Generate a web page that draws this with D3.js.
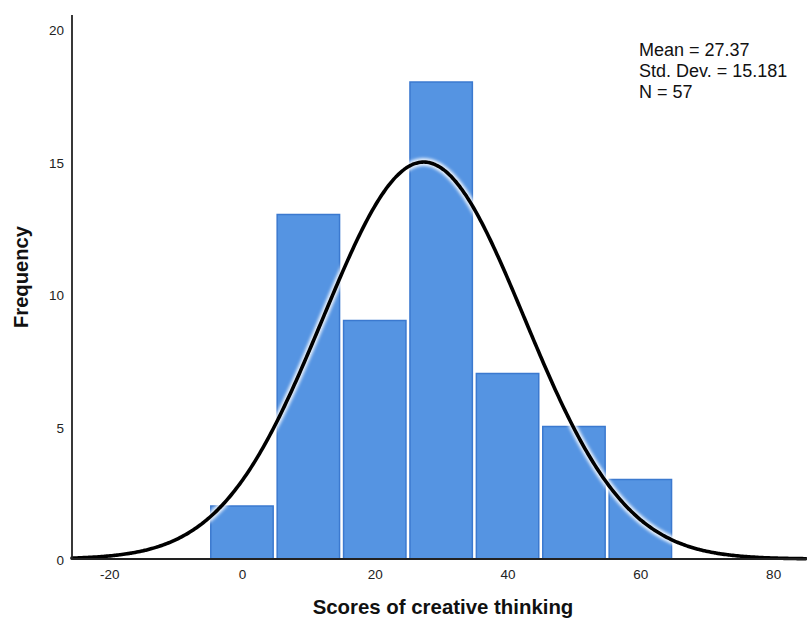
<!DOCTYPE html>
<html>
<head>
<meta charset="utf-8">
<script src="https://cdn.jsdelivr.net/npm/d3@7"></script>
<style>
  body { margin: 0; background: #fff; }
  svg { display: block; font-family: "Liberation Sans", Arial, sans-serif; }
</style>
</head>
<body>
<svg id="chart" width="807" height="620"></svg>
<script>
// Histogram bins (lower edge) and counts
const binStarts = [-5, 5, 15, 25, 35, 45, 55];
const binWidth = 10;
const counts = [2, 13, 9, 18, 7, 5, 3];
const xTicks = [-20, 0, 20, 40, 60, 80];
const yTicks = [0, 5, 10, 15, 20];
const statLines = ["Mean = 27.37", "Std. Dev. = 15.181", "N = 57"];
const mean = 27.37, sd = 15.181, n = 57;

const svg = d3.select("#chart");
const x = d3.scaleLinear().domain([-25.6, 85.1]).range([72, 807]);
const y = d3.scaleLinear().domain([0, 20]).range([559, 29]);

// glow filter used behind the normal curve
const defs = svg.append("defs");
const f = defs.append("filter").attr("id", "glow").attr("x", "-10%").attr("y", "-10%").attr("width", "120%").attr("height", "120%");
f.append("feGaussianBlur").attr("stdDeviation", 1.6);

// Bars
svg.append("g").selectAll("rect").data(binStarts).join("rect")
  .attr("x", (d) => x(d) + 2)
  .attr("width", (d) => x(d + binWidth) - x(d) - 4)
  .attr("y", (d, i) => y(counts[i]))
  .attr("height", (d, i) => y(0) - y(counts[i]))
  .attr("fill", "#5594e2")
  .attr("stroke", "#3b79cf")
  .attr("stroke-width", 1.5);

// Normal curve scaled to counts
const pdf = (v) => n * binWidth / (sd * Math.sqrt(2 * Math.PI)) * Math.exp(-0.5 * ((v - mean) / sd) ** 2);
const pts = d3.range(-25.6, 85.11, 0.25).map((v) => [v, pdf(v)]);
const line = d3.line().x((d) => x(d[0])).y((d) => y(d[1])).curve(d3.curveBasis);
svg.append("path").datum(pts).attr("d", line)
  .attr("fill", "none").attr("stroke", "#ffffff").attr("stroke-width", 8)
  .attr("stroke-opacity", 0.85).attr("filter", "url(#glow)");
svg.append("path").datum(pts).attr("d", line)
  .attr("fill", "none").attr("stroke", "#000").attr("stroke-width", 3.6)
  .attr("stroke-linecap", "round");

// Axes
const fmt = (d) => String(d);
const xAxis = svg.append("g").attr("transform", `translate(0,${y(0)})`)
  .call(d3.axisBottom(x).tickValues(xTicks).tickFormat(fmt).tickSize(0).tickPadding(10));
const yAxis = svg.append("g").attr("transform", `translate(${x.range()[0]},0)`)
  .call(d3.axisLeft(y).tickValues(yTicks).tickFormat(fmt).tickSize(0).tickPadding(8));
[xAxis, yAxis].forEach((g) => {
  g.select(".domain").attr("stroke", "#222").attr("stroke-width", 1.8);
  g.selectAll("text").attr("font-size", 13.5).attr("fill", "#222")
    .attr("font-family", "'Liberation Sans', Arial, sans-serif");
});
yAxis.selectAll("text").attr("dy", "0.42em");
yAxis.select(".domain").attr("d", `M0,${y(0)}V15`);
xAxis.select(".domain").attr("d", `M${x.range()[0]},0H807`);

// Axis titles
svg.append("text").attr("x", 443).attr("y", 614).attr("text-anchor", "middle")
  .attr("font-size", 20.4).attr("font-weight", "bold").attr("fill", "#111")
  .text("Scores of creative thinking");
svg.append("text").attr("transform", "translate(28,277) rotate(-90)").attr("text-anchor", "middle")
  .attr("font-size", 20.2).attr("font-weight", "bold").attr("fill", "#111")
  .text("Frequency");

// Summary statistics
svg.append("g").selectAll("text").data(statLines).join("text")
  .attr("x", 639).attr("y", (d, i) => 56 + i * 21)
  .attr("font-size", 18).attr("fill", "#111")
  .text((d) => d);
</script>
</body>
</html>
